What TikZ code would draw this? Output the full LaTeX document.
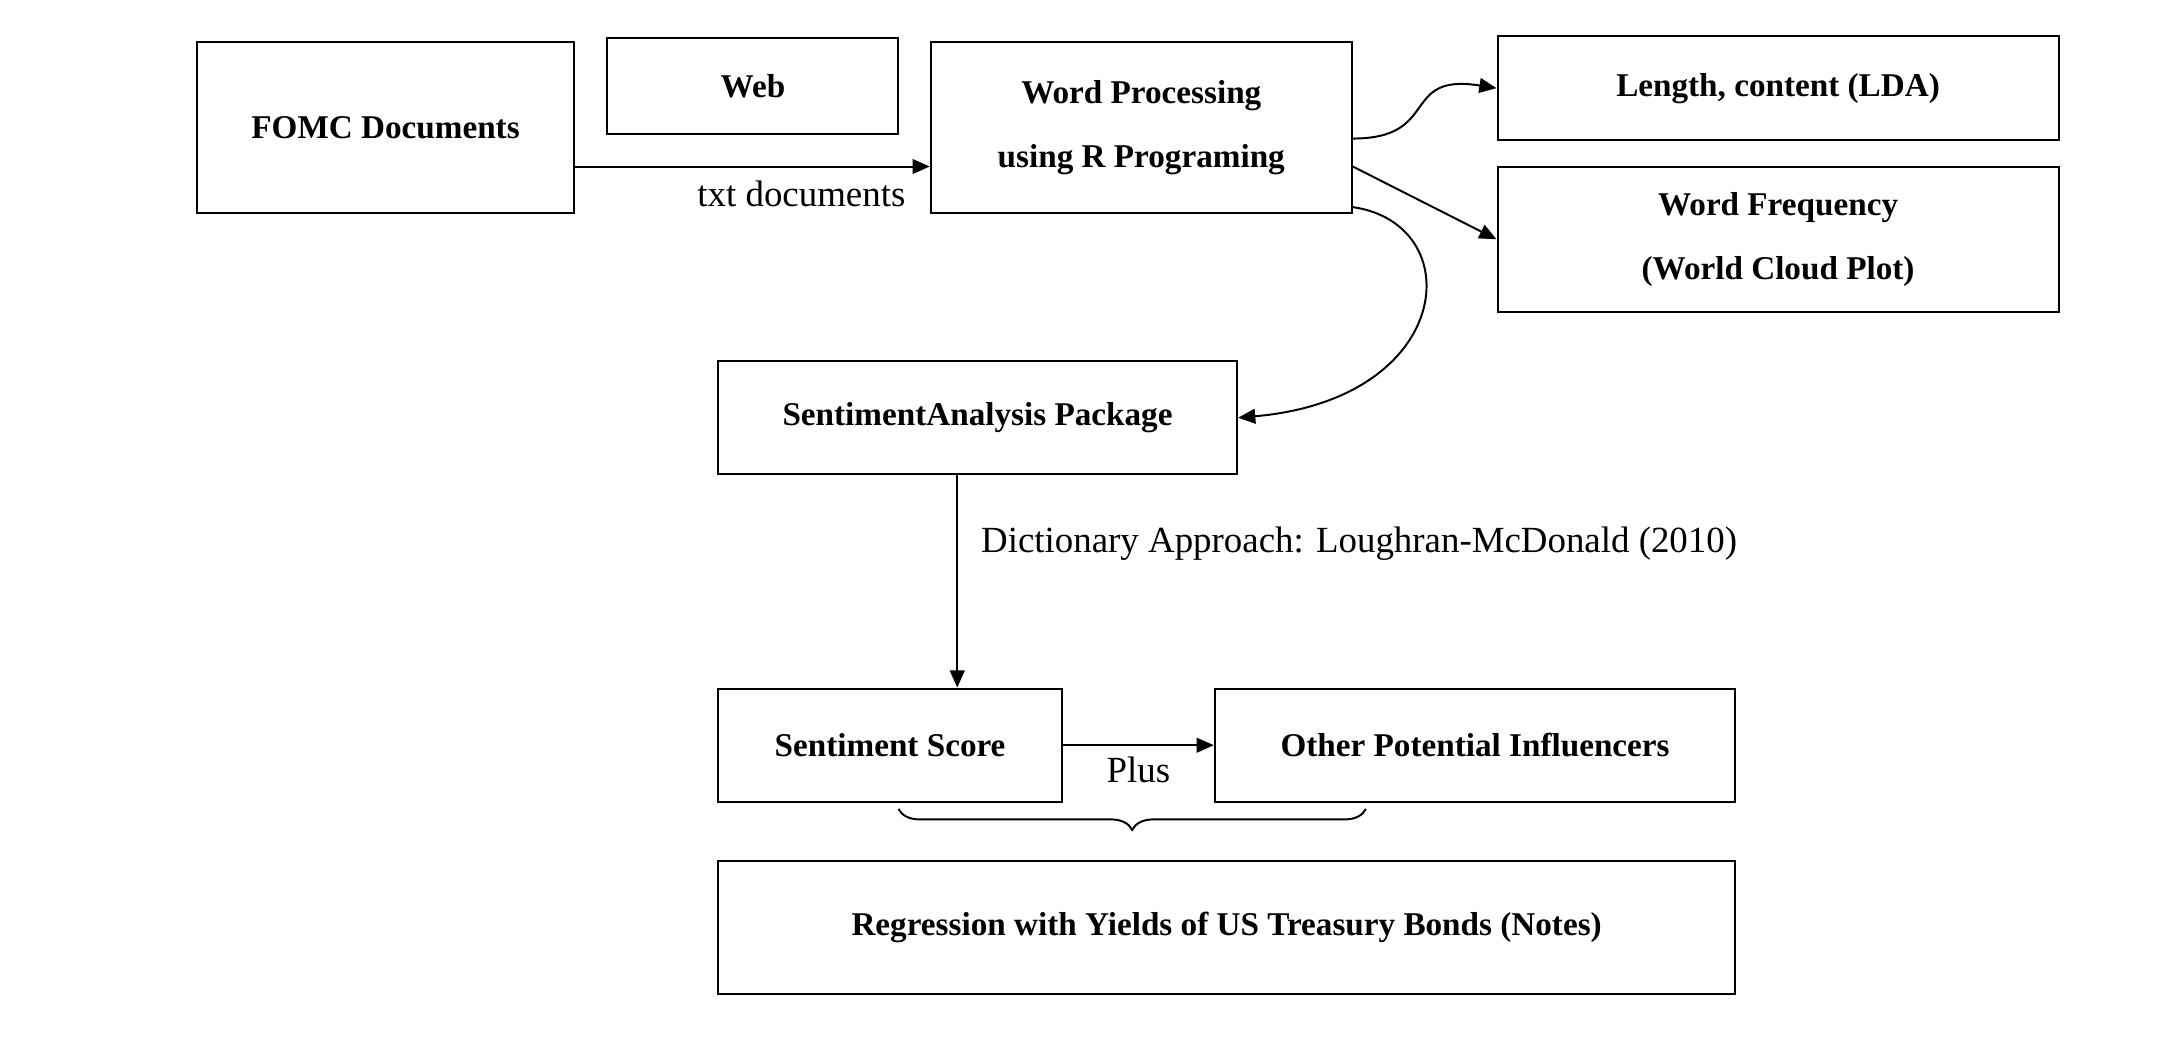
\documentclass[tikz,border=0pt]{standalone}
\usepackage{fontspec}
\setmainfont{Liberation Serif}
\usetikzlibrary{arrows.meta,decorations.pathreplacing}
\begin{document}
\begin{tikzpicture}[x=0.02cm,y=-0.02cm,>={Triangle[length=7pt,width=6pt]},thick]
  \tikzset{box/.style={draw,thick,align=center,font=\fontsize{13.5}{26}\selectfont\bfseries,inner sep=0pt},
           lbl/.style={font=\fontsize{15}{18}\selectfont}}
  \useasboundingbox (0,0) rectangle (1552,750);
  % boxes
  \node[box,minimum width=5.38cm,minimum height=2.44cm] (fomc) at (275.5,91) {FOMC Documents};
  \node[box,minimum width=4.16cm,minimum height=1.38cm] (web) at (538,61.5) {Web};
  \node[box,minimum width=6.02cm,minimum height=2.44cm] (wp) at (815.5,91) {Word Processing\\using R Programing};
  \node[box,minimum width=8.02cm,minimum height=1.48cm] (len) at (1270.5,63) {Length, content (LDA)};
  \node[box,minimum width=8.02cm,minimum height=2.08cm] (freq) at (1270.5,171) {Word Frequency\\(World Cloud Plot)};
  \node[box,minimum width=7.42cm,minimum height=1.62cm] (sa) at (698.5,298.5) {SentimentAnalysis Package};
  \node[box,minimum width=4.92cm,minimum height=1.62cm] (score) at (636,532.5) {Sentiment Score};
  \node[box,minimum width=7.44cm,minimum height=1.62cm] (other) at (1054,532.5) {Other Potential Influencers};
  \node[box,minimum width=14.54cm,minimum height=1.90cm] (reg) at (876.5,662.5) {Regression with Yields of US Treasury Bonds (Notes)};
  % connectors
  \draw[->] (fomc.east |- 0,119) -- node[lbl,below=2pt,xshift=20pt] {txt documents} (wp.west |- 0,119);
  \draw[->] (wp.east |- 0,99) .. controls (1030,99) and (1000,52) .. (len.west);
  \draw[->] (wp.east |- 0,119) -- (freq.west);
  \draw[->] (wp.east |- 0,148) .. controls (1050,160) and (1040,285) .. (sa.east);
  \draw[->] (sa.south -| 684,0) -- node[lbl,right=6pt,pos=0.32] {Dictionary Approach: Loughran-McDonald (2010)} (score.north -| 684,0);
  \draw[->] (score.east) -- node[lbl,below=1pt] {Plus} (other.west);
  \draw[decorate,decoration={brace,mirror,amplitude=0.3cm,aspect=0.5}] (642,578) coordinate (bl) -- (976,578) coordinate (br);
\end{tikzpicture}
\end{document}
